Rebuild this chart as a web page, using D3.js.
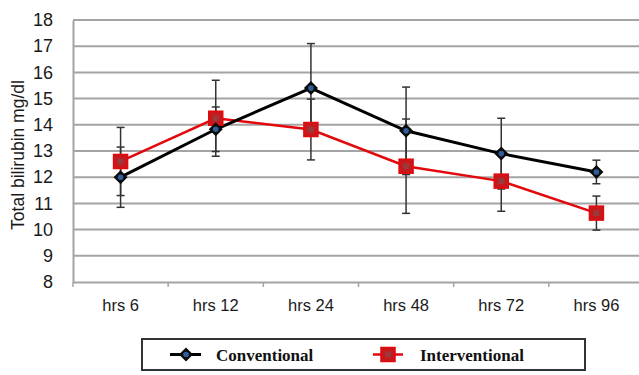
<!DOCTYPE html>
<meta charset="utf-8">
<style>
body { margin: 0; background: #fff; }
svg { display: block; }
.tick text { font-family: "Liberation Sans", Arial, sans-serif; fill: #1a1a1a; }
.ylab { font: 17.5px "Liberation Sans", Arial, sans-serif; fill: #1a1a1a; }
.legend text { font: bold 17px "Liberation Serif", "Times New Roman", serif; fill: #111; }
</style>
<body>
<script src="https://cdn.jsdelivr.net/npm/d3@7"></script>
<script>

var categories = ["hrs 6", "hrs 12", "hrs 24", "hrs 48", "hrs 72", "hrs 96"];
var yTicks = [8, 9, 10, 11, 12, 13, 14, 15, 16, 17, 18];

var conventional = [12.0, 13.83, 15.4, 13.77, 12.9, 12.2];
var conventionalErr = [1.15, 0.85, 1.7, 1.67, 1.35, 0.45];
var interventional = [12.6, 14.25, 13.82, 12.42, 11.85, 10.63];
var interventionalErr = [1.3, 1.45, 1.16, 1.8, 1.15, 0.65];

var width = 639, height = 375;
var plotLeft = 73, plotRight = 644, plotTop = 20, plotBottom = 282;

var svg = d3.select("body").append("svg")
    .attr("width", width)
    .attr("height", height);

var x = d3.scaleBand().domain(categories).range([plotLeft, plotRight]);
var y = d3.scaleLinear().domain([8, 18]).range([plotBottom, plotTop]);

// gridlines
svg.append("g").selectAll("line")
    .data(yTicks.slice(1))
  .enter().append("line")
    .attr("x1", plotLeft).attr("x2", width)
    .attr("y1", function(d) { return y(d); })
    .attr("y2", function(d) { return y(d); })
    .attr("stroke", "#a4a4a4")
    .attr("stroke-width", 2);

// y axis
var yAxis = svg.append("g")
    .attr("transform", "translate(" + plotLeft + ",0)")
    .call(d3.axisLeft(y).tickValues(yTicks).tickSize(0).tickPadding(20));
yAxis.select(".domain").attr("stroke", "#a4a4a4").attr("stroke-width", 2);
yAxis.selectAll(".tick text").style("font-size", "18px");

// x axis
var xAxis = svg.append("g")
    .attr("transform", "translate(0," + plotBottom + ")")
    .call(d3.axisBottom(x).tickSize(0).tickPadding(17));
xAxis.select(".domain").attr("stroke", "#a4a4a4").attr("stroke-width", 2);
xAxis.selectAll(".tick text").style("font-size", "16.5px");

// tick marks at band boundaries
svg.append("g").selectAll("line")
    .data(categories)
  .enter().append("line")
    .attr("x1", function(d) { return x(d); })
    .attr("x2", function(d) { return x(d); })
    .attr("y1", plotBottom).attr("y2", plotBottom + 5)
    .attr("stroke", "#a4a4a4")
    .attr("stroke-width", 1.5);

svg.append("text")
    .attr("class", "ylab")
    .attr("transform", "translate(24,155) rotate(-90)")
    .attr("text-anchor", "middle")
    .text("Total bilirubin mg/dl");

function cx(i) { return x(categories[i]) + x.bandwidth() / 2; }

function errorBars(vals, errs) {
  var g = svg.append("g").attr("stroke", "#333").attr("stroke-width", 1.5);
  vals.forEach(function(v, i) {
    var lo = y(v - errs[i]), hi = y(v + errs[i]);
    g.append("line").attr("x1", cx(i)).attr("x2", cx(i)).attr("y1", hi).attr("y2", lo);
    g.append("line").attr("x1", cx(i) - 4).attr("x2", cx(i) + 4).attr("y1", hi).attr("y2", hi);
    g.append("line").attr("x1", cx(i) - 4).attr("x2", cx(i) + 4).attr("y1", lo).attr("y2", lo);
  });
}

errorBars(conventional, conventionalErr);
errorBars(interventional, interventionalErr);

var line = d3.line()
    .x(function(d, i) { return cx(i); })
    .y(function(d) { return y(d); });

svg.append("path")
    .datum(interventional)
    .attr("d", line)
    .attr("fill", "none")
    .attr("stroke", "#e3080c")
    .attr("stroke-width", 2.5);

svg.append("path")
    .datum(conventional)
    .attr("d", line)
    .attr("fill", "none")
    .attr("stroke", "#000")
    .attr("stroke-width", 3);

function diamond(g, px, py) {
  g.append("path")
      .attr("d", "M" + px + "," + (py - 7) + "L" + (px + 7) + "," + py + "L" + px + "," + (py + 7) + "L" + (px - 7) + "," + py + "Z")
      .attr("fill", "#0a0a0a");
  g.append("circle").attr("cx", px).attr("cy", py).attr("r", 2.8).attr("fill", "#2f5f9a");
}

function square(g, px, py) {
  g.append("rect")
      .attr("x", px - 7).attr("y", py - 7)
      .attr("width", 14).attr("height", 14)
      .attr("fill", "#c8181c")
      .attr("stroke", "#e3080c")
      .attr("stroke-width", 1.5);
  g.append("rect")
      .attr("x", px - 3).attr("y", py - 3)
      .attr("width", 6).attr("height", 6)
      .attr("fill", "#9a3a3a");
}

var marks = svg.append("g");
interventional.forEach(function(v, i) { square(marks, cx(i), y(v)); });
conventional.forEach(function(v, i) { diamond(marks, cx(i), y(v)); });

// legend
var legend = svg.append("g").attr("class", "legend");
legend.append("rect")
    .attr("x", 142).attr("y", 339)
    .attr("width", 443).attr("height", 31)
    .attr("fill", "#fff")
    .attr("stroke", "#333")
    .attr("stroke-width", 2);

legend.append("line")
    .attr("x1", 170).attr("x2", 201).attr("y1", 354.5).attr("y2", 354.5)
    .attr("stroke", "#000").attr("stroke-width", 3);
diamond(legend, 186, 354.5);
legend.append("text").attr("x", 216).attr("y", 360.5).text("Conventional");

legend.append("line")
    .attr("x1", 373).attr("x2", 403).attr("y1", 354.5).attr("y2", 354.5)
    .attr("stroke", "#e3080c").attr("stroke-width", 2.5);
square(legend, 388, 354.5);
legend.append("text").attr("x", 420).attr("y", 360.5).text("Interventional");

</script>
